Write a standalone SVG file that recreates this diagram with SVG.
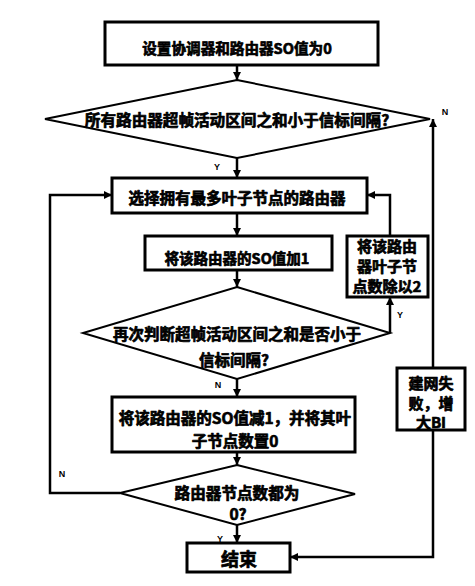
<svg xmlns="http://www.w3.org/2000/svg" width="475" height="586" viewBox="0 0 475 586">
<defs>
<style>
.box{fill:#fff;stroke:#000;stroke-width:3}
.dia{fill:#fff;stroke:#000;stroke-width:2}
.ln{fill:none;stroke:#000;stroke-width:2.5}
.t{font-family:"Noto Sans CJK SC","Liberation Sans",sans-serif;font-weight:bold;font-size:15px;text-anchor:middle;dominant-baseline:central;fill:#000;stroke:#000;stroke-width:0.7px;stroke-linejoin:round}
.lbl{font-family:"Liberation Sans",sans-serif;font-weight:bold;font-size:9px;text-anchor:middle;dominant-baseline:central;fill:#000}
</style>
<marker id="ah" viewBox="0 0 10 10" refX="10" refY="5" markerWidth="9" markerHeight="8" markerUnits="userSpaceOnUse" orient="auto">
<path d="M0,0 L10,5 L0,10 z" fill="#000"/>
</marker>
</defs>
<rect width="475" height="586" fill="#fff"/>
<g id="connectors">
<path class="ln" d="M237,65 V80" marker-end="url(#ah)"/>
<path class="ln" d="M237,158 V178" marker-end="url(#ah)"/>
<path class="ln" d="M237,213 V236" marker-end="url(#ah)"/>
<path class="ln" d="M237,270 V287" marker-end="url(#ah)"/>
<path class="ln" d="M237,379 V397" marker-end="url(#ah)"/>
<path class="ln" d="M237,452 V465" marker-end="url(#ah)"/>
<path class="ln" d="M237,525 V543" marker-end="url(#ah)"/>
<path class="ln" d="M120,493 H50 V195 H112" marker-end="url(#ah)"/>
<path class="ln" d="M390,333 V297" marker-end="url(#ah)"/>
<path class="ln" d="M390,236 V195 H367" marker-end="url(#ah)"/>
<path class="ln" d="M433,368 V119" marker-end="url(#ah)"/>
<path class="ln" d="M433,430 V557 H290" marker-end="url(#ah)"/>
</g>
<g id="labels">
<text class="lbl" x="445" y="112">N</text>
<text class="lbl" x="217" y="167">Y</text>
<text class="lbl" x="400" y="315">Y</text>
<text class="lbl" x="218" y="385">N</text>
<text class="lbl" x="62" y="474">N</text>
<text class="lbl" x="220" y="539">Y</text>
</g>
<g id="n1">
<rect class="box" x="105" y="22" width="273" height="43"/>
<text class="t" x="237" y="47" style="font-size:14.6px">设置协调器和路由器SO值为0</text>
</g>
<g id="n2">
<polygon class="dia" points="237,80 430,119 237,158 45,119"/>
<text class="t" x="237" y="119" style="font-size:15.6px">所有路由器超帧活动区间之和小于信标间隔?</text>
</g>
<g id="n3">
<rect class="box" x="112" y="178" width="255" height="35"/>
<text class="t" x="237" y="197" style="font-size:15.5px">选择拥有最多叶子节点的路由器</text>
</g>
<g id="n4">
<rect class="box" x="145" y="236" width="187" height="34"/>
<text class="t" x="237" y="257" style="font-size:14.5px">将该路由器的SO值加1</text>
</g>
<g id="n5">
<rect class="box" x="347" y="236" width="81" height="61"/>
<text class="t" x="387" y="245">将该路由</text>
<text class="t" x="387" y="265">器叶子节</text>
<text class="t" x="387" y="285">点数除以2</text>
</g>
<g id="n6">
<polygon class="dia" points="237,287 390,333 237,379 83,333"/>
<text class="t" x="237" y="333" style="font-size:15.5px">再次判断超帧活动区间之和是否小于</text>
<text class="t" x="234" y="359" style="font-size:15.5px">信标间隔?</text>
</g>
<g id="n7">
<rect class="box" x="112" y="397" width="243" height="55"/>
<text class="t" x="235" y="417" style="font-size:15.5px">将该路由器的SO值减1，并将其叶</text>
<text class="t" x="235" y="440" style="font-size:15.5px">子节点数置0</text>
</g>
<g id="n8">
<polygon class="dia" points="237,465 355,494 237,525 120,493"/>
<text class="t" x="237" y="492" style="font-size:15.6px">路由器节点数都为</text>
<text class="t" x="238" y="513" style="font-size:15.6px">0?</text>
</g>
<g id="n9">
<rect class="box" x="187" y="543" width="103" height="29"/>
<text class="t" x="239" y="558" style="font-size:18px">结束</text>
</g>
<g id="n10">
<rect class="box" x="397" y="368" width="68" height="62"/>
<text class="t" x="431" y="382">建网失</text>
<text class="t" x="431" y="402">败，增</text>
<text class="t" x="431" y="421">大BI</text>
</g>
</svg>
